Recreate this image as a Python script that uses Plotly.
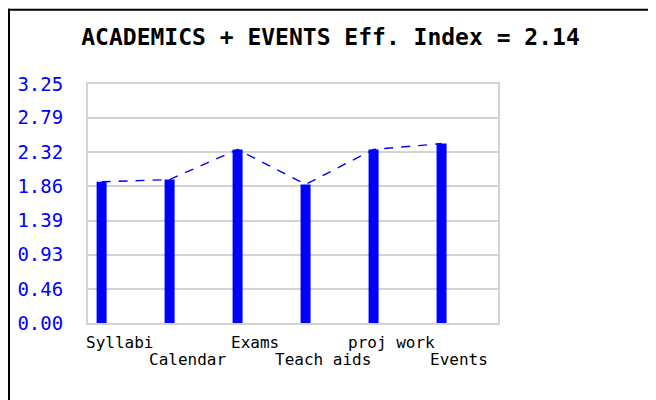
import plotly.graph_objects as go

categories = ["Syllabi", "Calendar", "Exams", "Teach aids", "proj work", "Events"]
values = [1.92, 1.95, 2.36, 1.885, 2.36, 2.44]
y_ticks = [0.0, 0.46, 0.93, 1.39, 1.86, 2.32, 2.79, 3.25]
title_text = "ACADEMICS + EVENTS Eff. Index = 2.14"

# page body has an 8px margin; work in figure coordinates
OFF = 8
W, H = 656 - OFF, 400 - OFF
L = 88 - OFF
T = 83.5 - OFF
R = 656 - 498
B = 400 - 323.5
pw = W - L - R
ph = H - T - B

idx = list(range(len(categories)))

fig = go.Figure()
fig.add_trace(go.Bar(
    x=idx, y=values, width=0.147,
    marker=dict(color="#0000ff", line=dict(width=0)),
    hoverinfo="skip",
))
fig.add_trace(go.Scatter(
    x=idx, y=values, mode="lines",
    line=dict(color="#0000ff", width=1.4, dash="9px,8px"),
    hoverinfo="skip",
))

# staggered category labels
for i, c in enumerate(categories):
    fig.add_annotation(
        x=i, y=0, xref="x", yref="paper",
        text=c, showarrow=False,
        xanchor="center", yanchor="middle",
        xshift=17.5, yshift=-(19 if i % 2 == 0 else 36.5),
        font=dict(family="DejaVu Sans Mono", size=16, color="#000000"),
    )

# outer frame (page pixel coords -> paper)
fx = lambda px: (px - OFF - L) / pw
fy = lambda py: 1 - (py - OFF - T) / ph
fig.add_shape(type="line", xref="paper", yref="paper",
              x0=fx(9), x1=fx(9), y0=fy(8), y1=fy(410),
              line=dict(color="#000000", width=2))
fig.add_shape(type="line", xref="paper", yref="paper",
              x0=fx(8), x1=fx(655), y0=fy(9), y1=fy(9),
              line=dict(color="#000000", width=2))
fig.add_shape(type="line", xref="paper", yref="paper",
              x0=fx(654.5), x1=fx(654.5), y0=fy(8), y1=fy(410),
              line=dict(color="#555555", width=1))

fig.update_layout(
    width=W, height=H,
    margin=dict(l=L, r=R, t=T, b=B, pad=0, autoexpand=False),
    paper_bgcolor="white", plot_bgcolor="white",
    showlegend=False,
    title=dict(
        text=title_text, x=(330.5 - OFF) / W, xanchor="center",
        y=1 - (37 - OFF) / H, yanchor="middle",
        font=dict(family="DejaVu Sans Mono", size=23, color="#000000", weight="bold"),
    ),
    xaxis=dict(
        range=[-0.2, 5.83], showticklabels=False, showgrid=False,
        zeroline=False, showline=True, mirror=True,
        linecolor="#d3d3d3", linewidth=2, ticks="",
        fixedrange=True, automargin=False,
    ),
    yaxis=dict(
        range=[0, 3.25], tickvals=y_ticks,
        ticktext=["%.2f" % v for v in y_ticks],
        showgrid=True, gridcolor="#d3d3d3", gridwidth=2,
        zeroline=False, showline=True, mirror=True,
        linecolor="#d3d3d3", linewidth=2, ticks="",
        ticklabelstandoff=19,
        tickfont=dict(family="DejaVu Sans Mono", size=19, color="#0000ff"),
        fixedrange=True, automargin=False,
    ),
)

fig.write_html("out.html")
